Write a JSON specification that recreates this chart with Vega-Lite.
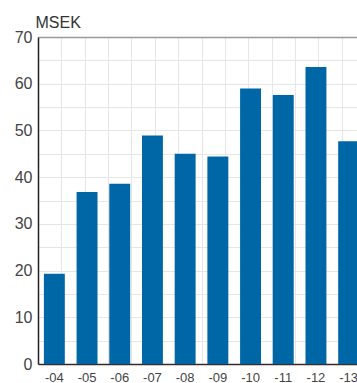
{
  "$schema": "https://vega.github.io/schema/vega-lite/v6.json",
  "autosize": {"type": "none"},
  "width": 319,
  "height": 327,
  "padding": {"left": 38, "top": 37, "right": 0, "bottom": 19},
  "background": "white",
  "config": {
    "view": {"stroke": null},
    "font": "Liberation Sans"
  },
  "data": {
    "values": [
      {"year": "-04", "value": 19.3},
      {"year": "-05", "value": 36.8},
      {"year": "-06", "value": 38.6},
      {"year": "-07", "value": 48.9},
      {"year": "-08", "value": 45.0},
      {"year": "-09", "value": 44.4},
      {"year": "-10", "value": 59.0},
      {"year": "-11", "value": 57.6},
      {"year": "-12", "value": 63.6},
      {"year": "-13", "value": 47.7}
    ]
  },
  "layer": [
    {
      "mark": {"type": "rule", "opacity": 0},
      "encoding": {
        "x": {
          "datum": 0,
          "type": "quantitative",
          "scale": {"domain": [0, 14], "range": [0, 327], "nice": false, "zero": false},
          "axis": {
            "orient": "top",
            "values": [0, 1, 2, 3, 4, 5, 6, 7, 8, 9, 10, 11, 12, 13, 14],
            "labels": false,
            "ticks": false,
            "title": null,
            "grid": true,
            "gridColor": "#e6e6e6",
            "gridWidth": 1,
            "domain": true,
            "domainColor": "#9a9a9a",
            "domainWidth": 1.5
          }
        }
      }
    },
    {
      "mark": {"type": "bar", "color": "#0067a7"},
      "encoding": {
        "x": {
          "field": "year",
          "type": "nominal",
          "sort": null,
          "scale": {"range": [0, 327], "paddingInner": 0.36, "paddingOuter": 0.18},
          "axis": {
            "orient": "bottom",
            "title": null,
            "labelAngle": 0,
            "labelFontSize": 13,
            "labelColor": "#444",
            "labelPadding": 7,
            "ticks": false,
            "grid": false,
            "domain": true,
            "domainColor": "#3d2828",
            "domainWidth": 1.5
          }
        },
        "y": {
          "field": "value",
          "type": "quantitative",
          "scale": {"domain": [0, 70], "nice": false},
          "axis": {
            "values": [0, 5, 10, 15, 20, 25, 30, 35, 40, 45, 50, 55, 60, 65, 70],
            "labelExpr": "datum.value % 10 == 0 ? datum.label : ''",
            "labelFontSize": 16,
            "labelColor": "#444",
            "labelPadding": 6,
            "ticks": false,
            "grid": true,
            "gridColor": "#e6e6e6",
            "gridWidth": 1,
            "domain": true,
            "domainColor": "#222",
            "domainWidth": 1.5,
            "title": "MSEK",
            "titleAngle": 0,
            "titleAlign": "left",
            "titleBaseline": "alphabetic",
            "titleX": -3,
            "titleY": -10,
            "titleFontSize": 16,
            "titleFontWeight": "normal",
            "titleColor": "#333"
          }
        }
      }
    }
  ],
  "resolve": {"scale": {"x": "independent"}}
}
